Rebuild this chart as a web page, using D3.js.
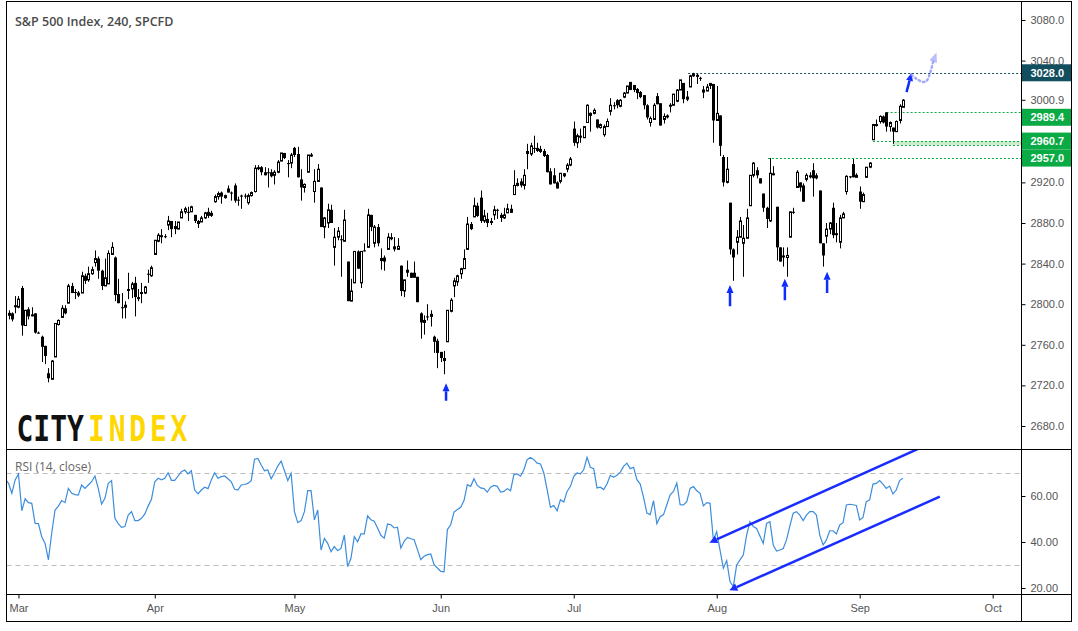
<!DOCTYPE html>
<html>
<head>
<meta charset="utf-8">
<script src="https://cdn.jsdelivr.net/npm/d3@7"></script>
<style>
body { margin: 0; background: #fff; }
svg { display: block; }
text { font-family: "Liberation Sans", Arial, sans-serif; }
</style>
</head>
<body>
<svg width="1078" height="631"></svg>
<script>
// 240 min bars, [open, high, low, close]
var febBars = [[2789,2794,2785,2791],[2791,2792,2783,2785],[2799,2808,2791,2797]];
var marBars = [
[2797,2808,2796,2805],[2816,2818,2769,2779],[2779,2794,2779,2794],[2795,2797,2785,2788],[2790,2797,2788,2788],
[2791,2791,2771,2772],[2772,2773,2771,2771],[2768,2769,2743,2758],[2759,2759,2741,2749],[2732,2737,2723,2727],
[2726,2745,2726,2744],[2748,2781,2748,2781],[2780,2785,2779,2784],[2787,2799,2787,2796],[2796,2799,2790,2791],
[2801,2820,2801,2818],[2818,2821,2811,2811],[2812,2815,2805,2811],[2809,2813,2807,2811],[2811,2832,2811,2828],
[2828,2830,2820,2823],[2824,2837,2822,2830],[2830,2837,2829,2834],[2841,2853,2837,2845],[2845,2847,2825,2833],
[2833,2834,2814,2818],[2818,2845,2818,2826],[2820,2853,2820,2850],[2849,2861,2849,2856],[2846,2847,2803,2809],
[2810,2825,2801,2801],[2797,2811,2786,2796],[2797,2803,2786,2799],[2815,2831,2805,2813],[2815,2822,2806,2820],
[2821,2827,2788,2807],[2807,2815,2803,2805],[2812,2821,2801,2810],[2811,2818,2810,2817],[2830,2834,2821,2829],
[2828,2838,2827,2836]];
var aprBars = [
[2849,2863,2849,2863],[2862,2870,2861,2868],[2868,2874,2860,2866],[2867,2869,2865,2866],[2878,2887,2873,2882],
[2882,2882,2866,2874],[2877,2882,2869,2874],[2874,2881,2874,2881],[2885,2894,2885,2891],[2891,2896,2889,2894],
[2891,2896,2882,2890],[2891,2897,2891,2896],[2888,2888,2880,2882],[2882,2883,2875,2879],[2881,2887,2881,2885],
[2885,2891,2884,2890],[2891,2895,2885,2887],[2890,2892,2886,2887],[2901,2908,2900,2906],[2906,2911,2903,2909],
[2910,2911,2899,2906],[2905,2908,2904,2907],[2914,2917,2910,2910],[2910,2911,2902,2909],[2917,2919,2900,2902],
[2903,2906,2897,2902],[2907,2908,2894,2906],[2907,2909,2904,2906],[2900,2909,2898,2907],[2907,2911,2906,2910],
[2911,2937,2910,2934],[2935,2937,2932,2933],[2935,2936,2927,2930],[2930,2935,2927,2927],[2930,2934,2915,2929],
[2930,2933,2925,2926],[2927,2932,2918,2930],[2930,2942,2929,2940],[2941,2949,2941,2949],[2949,2949,2943,2944],
[2939,2942,2925,2938],[2939,2949,2934,2947]];
var mayBars = [
[2954,2955,2945,2947],[2948,2955,2925,2925],[2923,2933,2902,2915],[2915,2919,2910,2918],[2930,2947,2930,2947],
[2947,2949,2945,2947],[2911,2933,2900,2921],[2921,2938,2921,2933],[2915,2915,2876,2876],[2876,2886,2865,2885],
[2880,2899,2875,2893],[2893,2898,2880,2880],[2856,2875,2838,2866],[2866,2876,2863,2872],[2864,2868,2827,2863],
[2862,2893,2862,2883],[2842,2842,2803,2803],[2803,2825,2803,2813],[2821,2852,2821,2852],[2852,2853,2835,2835],
[2821,2852,2816,2852],[2853,2860,2852,2852],[2856,2894,2856,2888],[2888,2888,2872,2876],[2860,2878,2856,2876],
[2876,2879,2857,2860],[2843,2855,2834,2845],[2846,2848,2833,2842],[2854,2870,2854,2866],[2866,2870,2863,2864],
[2857,2866,2852,2854],[2854,2865,2854,2857],[2838,2838,2808,2813],[2813,2824,2807,2824],[2834,2843,2827,2831],
[2831,2831,2826,2826],[2831,2842,2826,2826],[2827,2827,2802,2802],[2791,2792,2766,2782],[2782,2789,2770,2784],
[2788,2800,2784,2787],[2788,2794,2778,2790],[2768,2769,2752,2763],[2764,2766,2737,2752]];
var junBars = [
[2753,2753,2743,2747],[2747,2754,2731,2744],[2763,2794,2763,2794],[2793,2806,2792,2804],[2818,2826,2807,2823],
[2822,2829,2818,2828],[2830,2836,2825,2835],[2835,2854,2835,2845],[2854,2886,2854,2879],[2879,2881,2873,2874],
[2886,2905,2886,2897],[2897,2900,2886,2887],[2905,2912,2880,2882],[2882,2893,2880,2887],[2884,2890,2876,2880],
[2882,2885,2878,2880],[2888,2897,2883,2893],[2893,2894,2884,2892],[2888,2890,2881,2885],[2885,2895,2884,2888],
[2890,2899,2890,2894],[2894,2898,2890,2890],[2908,2932,2908,2917],[2917,2924,2916,2919],[2921,2924,2915,2917],
[2917,2933,2913,2927],[2951,2958,2933,2948],[2948,2959,2946,2956],[2954,2966,2949,2953],[2954,2959,2950,2951],
[2953,2956,2949,2950],[2951,2953,2945,2946],[2947,2948,2930,2930],[2931,2934,2918,2918],[2927,2934,2919,2919],
[2920,2921,2914,2914],[2921,2929,2919,2929],[2929,2929,2925,2926],[2933,2939,2930,2937],[2937,2945,2936,2943]];
var julBars = [
[2973,2980,2956,2959],[2959,2968,2954,2966],[2966,2973,2959,2964],[2964,2975,2964,2975],[2979,2997,2979,2996],
[2986,2989,2970,2988],[2988,2993,2987,2991],[2982,2982,2973,2974],[2974,2978,2973,2977],[2967,2977,2965,2975],
[2975,2983,2975,2980],[2990,3003,2986,2996],[2996,2999,2992,2995],[3001,3002,2993,2996],[2995,3002,2994,3001],
[3004,3009,3003,3008],[3008,3015,3008,3015],[3019,3019,3011,3011],[3016,3016,3009,3011],[3012,3013,3002,3008],
[3009,3010,3003,3004],[3006,3006,2992,2996],[2996,2997,2982,2984],[2979,2985,2975,2983],[2982,2998,2982,2996],
[3005,3008,2997,2997],[2998,2998,2976,2976],[2982,2988,2978,2985],[2986,2987,2983,2984],[2996,2998,2989,2996],
[2996,3007,2996,3007],[3000,3012,2999,3011],[3011,3021,3011,3021],[3018,3018,2998,3002],[3002,3010,3000,3004],
[3014,3026,3014,3025],[3025,3028,3024,3027],[3026,3027,3017,3024],[3023,3024,3020,3022],[3009,3015,3003,3011],
[3010,3017,3010,3014],[3018,3018,3012,3015],[3017,3017,2959,2981]];
var augBars = [
[2981,3015,2981,2988],[2986,2986,2946,2956],[2945,2947,2916,2920],[2920,2945,2919,2933],[2900,2900,2849,2854],
[2854,2855,2823,2846],[2861,2873,2849,2866],[2866,2886,2866,2882],[2860,2878,2827,2865],[2865,2894,2865,2885],
[2897,2927,2897,2927],[2927,2940,2925,2939],[2932,2935,2924,2927],[2924,2924,2919,2919],[2909,2909,2891,2895],
[2895,2896,2875,2884],[2882,2944,2881,2929],[2929,2936,2927,2927],[2896,2896,2843,2856],[2856,2856,2842,2842],
[2848,2856,2837,2846],[2846,2856,2827,2848],[2866,2891,2866,2891],[2891,2895,2889,2890],[2915,2932,2915,2930],
[2920,2920,2911,2915],[2917,2919,2901,2901],[2923,2929,2921,2927],[2927,2930,2924,2925],[2932,2939,2906,2924],
[2927,2929,2923,2924],[2912,2912,2860,2860],[2860,2860,2837,2848],[2867,2880,2860,2874],[2874,2881,2869,2880],
[2895,2900,2865,2868],[2870,2880,2861,2868],[2861,2888,2855,2885],[2885,2891,2885,2889],[2911,2927,2908,2926],
[2926,2926,2924,2925],[2938,2943,2925,2925],[2925,2929,2925,2927]];
var sepBars = [
[2911,2916,2894,2901],[2901,2910,2901,2908],[2925,2935,2925,2935],[2935,2940,2934,2939],[2962,2977,2962,2977],
[2976,2982,2975,2977],[2980,2986,2978,2985],[2985,2986,2978,2979],[2989,2989,2970,2975],[2975,2980,2970,2979],
[2974,2974,2958,2970],[2970,2981,2970,2980],[2981,2997,2978,2995],[2994,3002,2994,3001]];

// RSI(14, close), first value belongs to the bar just before the first candle
var rsiValues = [67.4,
65.5,61.2,67,69.6,53.6,58.8,57.1,56.8,48.1,48,42.3,39.4,32.2,43.9,53.9,55.6,58,57.1,63.3,61.2,
60.6,60.4,64.8,63.3,64.8,66.2,68.7,63.3,56.5,59,65.5,66.7,50.3,48,46.4,46.7,51.7,53.2,49.3,49.3,
50.3,52.2,55.6,58.6,66.2,67.7,67,67.7,70.1,66.8,66.8,68.7,70.6,71.3,69.6,71,62.6,60.9,62.6,63.8,
63.2,67,70.1,67.7,68.4,68.7,67.5,66.2,62.9,62.6,64.8,65,65.5,66.7,76,76.3,73.5,71,71.3,67.5,
70.1,73,75.2,71,66.7,69.9,53.2,48.4,49.3,53.2,62.3,62.3,49.6,53.9,36.5,41.6,39.4,35.8,38,36.2,
37.2,43,29.3,32.9,42.3,40.1,43.5,43.5,51.4,49.7,49,46.1,42.9,41.7,47.8,47.5,46.1,46.4,37.4,40.3,
42,41.4,41,36.7,32.3,33.8,34.5,34.8,30.1,28.7,27.2,27,45.4,47.5,53,54.1,55.1,58,64.9,64.2,
67.5,64.6,63.5,63.2,61.7,63.8,64.6,64.2,61.7,62,63.2,62.3,69.3,69.6,68.6,71.4,75.8,76.8,75.8,74.3,
73.9,70,62.8,55.1,55.9,53.6,58.4,57.4,62,64.2,68.6,70,69.6,71.4,76.8,72.5,71.9,63.5,63.8,62.8,
65.2,69,68.1,69,70.4,72.9,74.3,71.9,72.5,67.1,65.2,59.4,52.6,51.9,58,48,51,51.9,56.2,60.5,
62,65.6,56.2,56.1,57.5,63.3,64.1,62.3,61.2,55.7,57.1,56.8,40.9,44.5,36.5,28.6,31.9,22.8,20.6,30,
32.2,34.3,43,48.8,46.7,45.9,42.6,39.4,48.1,48.8,38.7,36.1,36.5,37.2,40.9,47,52.5,53.2,51.7,49.3,
51.7,53.2,53.2,51.7,43,38.7,40.9,44.9,44.9,43.5,47.4,48.4,56.1,56.4,56.2,55.9,49.6,50.7,57.5,58.3,
65.2,65.5,66.7,65.2,63.3,64.3,60.9,62.6,66.7,67.7];

var monthLabels = ["Mar", "Apr", "May", "Jun", "Jul", "Aug", "Sep", "Oct"];
var monthStartBar = [3, 44, 86, 130, 170, 213, 256, 296];
var priceTicks = d3.range(2680, 3081, 40);
var rsiTicks = [20, 40, 60];
var rsiBands = [70, 30];

// horizontal levels drawn on the chart, and the bar where each one starts
var levelPrices = [3028.0, 2989.4, 2960.7, 2957.0, 2944.0];
var levelFromBar = [204.4, 264.1, 260, 266, 228.4];
var lastPrice = 3000.9;

// annotation arrows: bar, tail price, tip price
var arrowBars = [131.6, 217, 233.5, 246.2, 270.1];
var arrowTails = [2705, 2798, 2804, 2811, 3009];
var arrowTips = [2722, 2819, 2825, 2832, 3028];
var arrowTipBars = [131.6, 217, 233.5, 246.2, 271.6];
// projected path after the breakout
var projBars = [271.6, 273.1, 275.1, 276.1, 277.1, 278.1, 279.1];
var projPrices = [3026, 3022, 3019, 3020, 3027, 3039, 3048];
// trend channel on the RSI: [bar, rsi] start and end
var rsiLines = [[[210.8, 39.7], [273.9, 80.7]], [[216.8, 19.0], [280.1, 59.7]]];

var bars = febBars.concat(marBars, aprBars, mayBars, junBars, julBars, augBars, sepBars);

var svg = d3.select("svg");
var leftX = 6.5, rightX = 1021.5, topY = 1.5, priceBottom = 449.5, rsiBottom = 594.5, bottomY = 621.5, outerRight = 1071.5;

var x = d3.scaleLinear().domain([0, 269]).range([8.5, 902.9]);
var y = d3.scaleLinear().domain([2680, 3080]).range([426, 20]);
var yr = d3.scaleLinear().domain([30, 70]).range([565, 473]);

var defs = svg.append("defs");
defs.append("clipPath").attr("id", "pclip").append("rect")
    .attr("x", leftX).attr("y", topY).attr("width", rightX - leftX).attr("height", priceBottom - topY);
defs.append("clipPath").attr("id", "rclip").append("rect")
    .attr("x", leftX).attr("y", priceBottom + 0.5).attr("width", rightX - leftX).attr("height", rsiBottom - priceBottom - 1);

// title and logo
svg.append("text").attr("x", 15).attr("y", 26).style("font-family", "'Open Sans', sans-serif")
    .style("font-size", "12.5px").style("font-weight", 600).attr("fill", "#4a4a4a")
    .text("S&P 500 Index, 240, SPCFD");
var logo = svg.append("g").attr("transform", "translate(0,441) scale(1,1.27)");
logo.append("text").attr("x", 16.5).attr("y", 0).attr("fill", "#111")
    .style("font-family", "'DejaVu Sans Mono', monospace").style("font-size", "28px").style("font-weight", "bold")
    .text("CITY");
logo.append("text").attr("x", 88).attr("y", 0).attr("fill", "#ffd700")
    .style("font-family", "'DejaVu Sans Mono', monospace").style("font-size", "28px").style("font-weight", "bold")
    .style("letter-spacing", "3.8px").text("INDEX");

// levels
var pg = svg.append("g").attr("clip-path", "url(#pclip)");
pg.append("rect")
    .attr("x", x(levelFromBar[3])).attr("y", y(levelPrices[2]))
    .attr("width", rightX - x(levelFromBar[3])).attr("height", y(levelPrices[3]) - y(levelPrices[2]))
    .attr("fill", "#c9edc9");
levelPrices.forEach(function (p, k) {
    pg.append("line")
        .attr("x1", x(levelFromBar[k])).attr("x2", rightX)
        .attr("y1", Math.round(y(p)) + 0.5).attr("y2", Math.round(y(p)) + 0.5)
        .attr("stroke", k == 0 ? "#134e5e" : "#0aab45")
        .attr("stroke-width", 1).attr("stroke-dasharray", "2,2");
});

// candles
var candle = pg.selectAll("g.candle").data(bars).enter().append("g").attr("class", "candle");
candle.append("line")
    .attr("x1", function (d, i) { return Math.round(x(i)) + 0.5; })
    .attr("x2", function (d, i) { return Math.round(x(i)) + 0.5; })
    .attr("y1", function (d) { return y(d[1]); })
    .attr("y2", function (d) { return y(d[2]); })
    .attr("stroke", "#000").attr("stroke-width", 1);
candle.append("rect")
    .attr("x", function (d, i) { return Math.round(x(i)) + (d[3] >= d[0] ? -0.5 : -1); })
    .attr("width", function (d) { return d[3] >= d[0] ? 2 : 3; })
    .attr("y", function (d) { return y(Math.max(d[0], d[3])); })
    .attr("height", function (d) { return Math.max(1, Math.abs(y(d[0]) - y(d[3]))); })
    .attr("fill", function (d) { return d[3] >= d[0] ? "#fff" : "#000"; })
    .attr("stroke", function (d) { return d[3] >= d[0] ? "#000" : "none"; })
    .attr("stroke-width", 1);

// arrows
function arrow(g, x1, y1, x2, y2, color, w, hl, hw) {
    var a = Math.atan2(y2 - y1, x2 - x1);
    var bx = x2 - Math.cos(a) * hl, by = y2 - Math.sin(a) * hl;
    g.append("line").attr("x1", x1).attr("y1", y1).attr("x2", bx).attr("y2", by)
        .attr("stroke", color).attr("stroke-width", w);
    g.append("path")
        .attr("d", "M" + x2 + "," + y2 +
            "L" + (bx + Math.sin(a) * hw) + "," + (by - Math.cos(a) * hw) +
            "L" + (bx - Math.sin(a) * hw) + "," + (by + Math.cos(a) * hw) + "Z")
        .attr("fill", color);
}
arrowBars.forEach(function (b, k) {
    arrow(pg, x(b), y(arrowTails[k]), x(arrowTipBars[k]), y(arrowTips[k]), "#0f2cff", 2.5, 8, 3.5);
});
var proj = projBars.map(function (b, k) { return [x(b), y(projPrices[k])]; });
pg.append("path")
    .attr("d", d3.line().curve(d3.curveCatmullRom)(proj.slice(0, proj.length - 1)))
    .attr("fill", "none").attr("stroke", "#8d93f3").attr("stroke-width", 2.5)
    .attr("stroke-dasharray", "1.5,3").attr("stroke-linecap", "round").attr("opacity", 0.8);
var pa = proj[proj.length - 2], pb = proj[proj.length - 1];
(function () {
    var a = Math.atan2(pb[1] - pa[1], pb[0] - pa[0]);
    var hw = 4;
    pg.append("path")
        .attr("d", "M" + pb[0] + "," + pb[1] +
            "L" + (pa[0] + Math.sin(a) * hw) + "," + (pa[1] - Math.cos(a) * hw) +
            "L" + (pa[0] - Math.sin(a) * hw) + "," + (pa[1] + Math.cos(a) * hw) + "Z")
        .attr("fill", "#8d93f3").attr("opacity", 0.6);
})();

// RSI panel
var rg = svg.append("g").attr("clip-path", "url(#rclip)");
rsiBands.forEach(function (v) {
    rg.append("line").attr("x1", leftX).attr("x2", rightX)
        .attr("y1", Math.round(yr(v)) + 0.5).attr("y2", Math.round(yr(v)) + 0.5)
        .attr("stroke", "#bdbdbd").attr("stroke-dasharray", "5,4");
});
rg.append("path")
    .attr("d", d3.line().x(function (d, k) { return x(k - 1); }).y(function (d) { return yr(d); })(rsiValues))
    .attr("fill", "none").attr("stroke", "#3c8ddc").attr("stroke-width", 1.2);
rsiLines.forEach(function (l) {
    arrow(rg, x(l[1][0]), yr(l[1][1]), x(l[0][0]), yr(l[0][1]), "#1a2dff", 2.5, 8, 4);
});
svg.append("text").attr("x", 15).attr("y", 471).style("font-family", "'Open Sans', sans-serif")
    .style("font-size", "12px").attr("fill", "#666").text("RSI (14, close)");

// price labels on the axis, pushed apart when they collide
var labels = [
    { p: levelPrices[0], t: "3028.0", fill: "#134e5e" },
    { p: lastPrice, t: "3000.9", fill: null },
    { p: levelPrices[1], t: "2989.4", fill: "#0aab45" },
    { p: levelPrices[2], t: "2960.7", fill: "#0aab45" },
    { p: levelPrices[3], t: "2957.0", fill: "#0aab45" }
];
labels.forEach(function (l, k) {
    l.y = y(l.p);
    if (k > 0 && l.y < labels[k - 1].y + 17) l.y = labels[k - 1].y + 17;
});

// axes
function styleAxis(g) {
    g.select(".domain").remove();
    g.selectAll(".tick line").attr("stroke", "#000");
    g.selectAll(".tick text").attr("fill", "#555").style("font-size", "11px")
        .style("font-family", "'Liberation Sans', Arial, sans-serif");
}
var shownTicks = priceTicks.filter(function (t) {
    return labels.every(function (l) { return Math.abs(l.y - y(t)) > 8; });
});
svg.append("g").attr("transform", "translate(" + rightX + ",0)")
    .call(d3.axisRight(y).tickValues(shownTicks).tickFormat(d3.format(".1f")).tickSize(4).tickPadding(5))
    .call(styleAxis);
svg.append("g").attr("transform", "translate(" + rightX + ",0)")
    .call(d3.axisRight(yr).tickValues(rsiTicks).tickFormat(d3.format(".2f")).tickSize(4).tickPadding(5))
    .call(styleAxis);
svg.append("g").attr("transform", "translate(0," + rsiBottom + ")")
    .call(d3.axisBottom(x).tickValues(monthStartBar)
        .tickFormat(function (d, k) { return monthLabels[k]; }).tickSize(4).tickPadding(6))
    .call(styleAxis);

labels.forEach(function (l) {
    if (l.fill) {
        svg.append("rect").attr("x", rightX).attr("y", l.y - 8.5).attr("width", outerRight - rightX)
            .attr("height", 17).attr("fill", l.fill);
    } else {
        svg.append("line").attr("x1", rightX).attr("x2", rightX + 4).attr("y1", l.y).attr("y2", l.y).attr("stroke", "#000");
    }
    svg.append("text").attr("x", rightX + 9).attr("y", l.y).attr("dy", "0.35em")
        .attr("fill", l.fill ? "#fff" : "#555")
        .style("font-size", "11px").style("font-weight", l.fill ? "bold" : "normal")
        .text(l.t);
});

// frame
var frame = svg.append("g").attr("stroke", "#000").attr("stroke-width", 1).attr("fill", "none");
frame.append("rect").attr("x", leftX).attr("y", topY).attr("width", outerRight - leftX).attr("height", bottomY - topY);
frame.append("line").attr("x1", rightX).attr("x2", rightX).attr("y1", topY).attr("y2", bottomY);
frame.append("line").attr("x1", leftX).attr("x2", outerRight).attr("y1", priceBottom).attr("y2", priceBottom);
frame.append("line").attr("x1", leftX).attr("x2", outerRight).attr("y1", rsiBottom).attr("y2", rsiBottom);
</script>
</body>
</html>
